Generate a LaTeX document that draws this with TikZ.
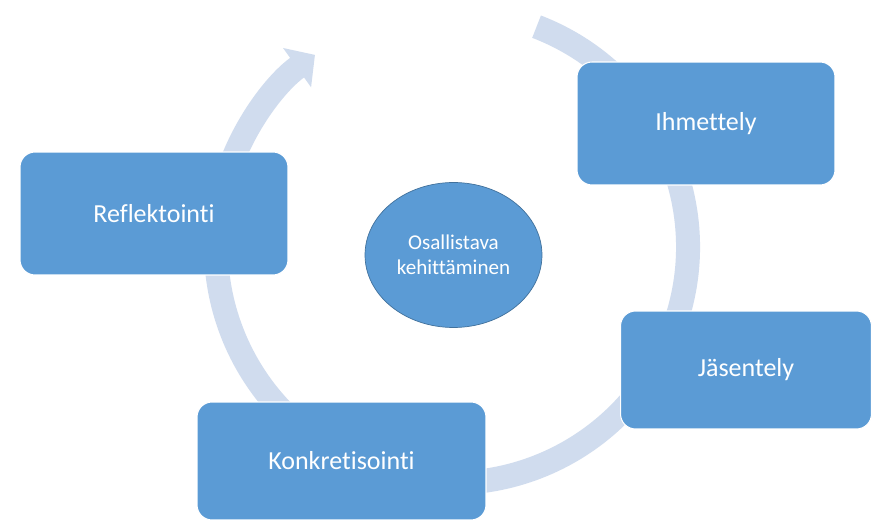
\documentclass[tikz,border=0pt]{standalone}
\usepackage{fontspec}
\setmainfont[Ligatures=NoCommon]{Carlito}
\usetikzlibrary{arrows.meta,shapes.geometric}
\definecolor{boxblue}{RGB}{91,155,213}
\definecolor{ringblue}{RGB}{208,220,238}
\definecolor{edgeblue}{RGB}{65,113,156}

\begin{document}
\begin{tikzpicture}[x=0.02cm,y=0.02cm,
    phase/.style={rectangle, rounded corners=0.3cm, fill=boxblue, draw=white,
        line width=0.6pt, text=white, inner sep=0pt,
        font=\fontsize{14.8}{17}\selectfont},
    hub/.style={ellipse, fill=boxblue, draw=edgeblue, line width=0.4pt,
        text=white, align=center, inner sep=0pt,
        font=\fontsize{12}{14.5}\selectfont}]
    \useasboundingbox (0,0) rectangle (872,521);
    \fill[white] (0,0) rectangle (872,521);
    % the ring with its arrow
    \draw[ringblue, line width=0.48cm, -{Triangle[width=0.94cm,length=0.44cm]}]
        (452,274) ++(69:236) arc (69:-234.5:236);
    % the four phases
    \node[phase, minimum width=5.16cm, minimum height=2.46cm] (ihm) at (706,397.5) {Ihmettely};
    \node[phase, minimum width=5.02cm, minimum height=2.36cm] (jas) at (746,151) {Jäsentely};
    \node[phase, minimum width=5.78cm, minimum height=2.36cm] (kon) at (341.5,60) {Konkretisointi};
    \node[phase, minimum width=5.36cm, minimum height=2.46cm] (ref) at (154,307.5) {Reflektointi};
    % the centre
    \node[hub, minimum width=3.54cm, minimum height=2.9cm] (osa) at (453.5,266) {Osallistava\\kehittäminen};
\end{tikzpicture}
\end{document}
